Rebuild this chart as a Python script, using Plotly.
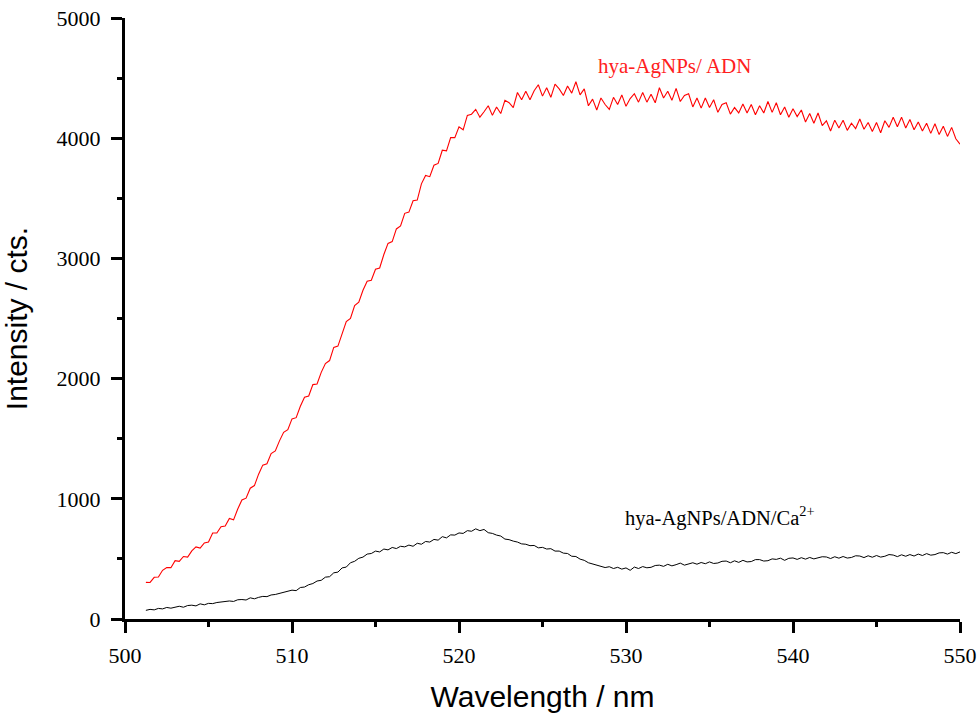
import numpy as np
import plotly.graph_objects as go

WL_START = 501.25
WL_STEP = 0.25

red_adn = [
    305, 304, 347,
    350, 405, 428, 427,
    485, 480, 520, 515,
    567, 600, 590, 633,
    640, 715, 715, 767,
    773, 836, 825, 915,
    990, 1005, 1088, 1110,
    1205, 1280, 1292, 1376,
    1398, 1482, 1553, 1575,
    1665, 1675, 1770, 1845,
    1855, 1950, 1955, 2052,
    2125, 2150, 2260, 2270,
    2375, 2475, 2500, 2608,
    2635, 2735, 2810, 2818,
    2910, 2920, 3032, 3125,
    3140, 3245, 3270, 3375,
    3385, 3480, 3485, 3620,
    3690, 3680, 3775, 3790,
    3900, 3895, 4005, 4005,
    4095, 4070, 4190, 4200,
    4240, 4175, 4220, 4270,
    4190, 4260, 4205, 4315,
    4295, 4255, 4380, 4320,
    4390, 4320, 4395, 4445,
    4350, 4420, 4340, 4450,
    4410, 4355, 4435, 4375,
    4470, 4360, 4410, 4270,
    4325, 4235, 4335, 4280,
    4240, 4340, 4280, 4360,
    4265, 4330, 4370, 4300,
    4380, 4300, 4365, 4295,
    4420, 4335, 4390, 4315,
    4415, 4305, 4355, 4370,
    4260, 4335, 4250, 4335,
    4255, 4320, 4215, 4280,
    4295, 4200, 4255, 4210,
    4285, 4210, 4280, 4195,
    4270, 4210, 4305, 4215,
    4295, 4195, 4260, 4175,
    4245, 4180, 4235, 4135,
    4205, 4125, 4210, 4105,
    4145, 4060, 4150, 4085,
    4150, 4065, 4125, 4080,
    4160, 4075, 4130, 4055,
    4130, 4045, 4145, 4090,
    4175, 4095, 4175, 4085,
    4155, 4070, 4135, 4060,
    4125, 4040, 4120, 4030,
    4100, 4015, 4090, 3995,
    3950,
]

black_ca = [
    72, 80, 76,
    88, 84, 96, 90,
    100, 106, 98, 112,
    115, 109, 126, 118,
    130, 128, 137, 140,
    145, 150, 146, 160,
    162, 158, 176, 168,
    180, 188, 186, 200,
    204, 212, 218, 230,
    240, 236, 262, 266,
    285, 295, 316, 322,
    348, 352, 384, 390,
    425, 432, 468, 480,
    505, 515, 540, 545,
    565, 558, 582, 575,
    595, 586, 605, 600,
    615, 605, 630, 622,
    645, 640, 662, 656,
    685, 675, 700, 698,
    716, 712, 735, 730,
    750, 735, 745, 718,
    712, 698, 690, 665,
    660, 648, 640, 625,
    622, 610, 612, 592,
    596, 582, 585, 565,
    565, 548, 545, 522,
    520, 498, 488, 468,
    458, 445, 440, 428,
    435, 420, 430, 415,
    425, 405, 432, 420,
    436, 426, 430, 445,
    448, 438, 455, 442,
    452, 465, 448, 460,
    468, 456, 470, 460,
    475, 462, 466, 480,
    482, 468, 484, 471,
    488, 475, 478, 494,
    494, 482, 485, 500,
    496, 506, 488, 505,
    508, 496, 510, 498,
    512, 500, 506, 518,
    516, 503, 518, 506,
    520, 507, 512, 526,
    524, 511, 526, 514,
    528, 515, 522, 536,
    532, 519, 534, 522,
    536, 524, 540, 528,
    544, 531, 536, 550,
    552, 540, 555, 544,
    558,
]

x_ticks = [500, 510, 520, 530, 540, 550]
y_ticks = [0, 1000, 2000, 3000, 4000, 5000]

wl_red = WL_START + WL_STEP * np.arange(len(red_adn))
wl_black = WL_START + WL_STEP * np.arange(len(black_ca))

fig = go.Figure()
fig.add_trace(go.Scatter(x=wl_red, y=red_adn, mode="lines",
                         line=dict(color="#ff0000", width=1.1), showlegend=False))
fig.add_trace(go.Scatter(x=wl_black, y=black_ca, mode="lines",
                         line=dict(color="#000000", width=1), showlegend=False))

fig.add_annotation(x=532.9, y=4600, text="hya-AgNPs/ ADN", showarrow=False,
                   font=dict(family="Liberation Serif", size=21, color="#ff2020"))
fig.add_annotation(x=535.6, y=850, text="hya-AgNPs/ADN/Ca<sup>2+</sup>", showarrow=False,
                   font=dict(family="Liberation Serif", size=20.5, color="#000000"))

axis_common = dict(
    showline=True, linecolor="black", linewidth=3, mirror=False,
    ticks="outside", ticklen=11, tickwidth=3, tickcolor="black",
    showgrid=False, zeroline=False, automargin=False,
    tickfont=dict(family="Liberation Serif", size=22, color="black"),
)

fig.update_xaxes(
    range=[500, 550], tickvals=x_ticks, ticktext=[str(v) for v in x_ticks],
    title=dict(text="Wavelength / nm", font=dict(family="Liberation Sans", size=30, color="black"), standoff=20),
    minor=dict(ticks="outside", ticklen=5, tickwidth=2.5, tickcolor="black", dtick=5, tick0=500, showgrid=False),
    ticklabelstandoff=4,
    **axis_common,
)
fig.update_yaxes(
    range=[0, 5000], tickvals=y_ticks, ticktext=[str(v) for v in y_ticks],
    title=dict(text="Intensity / cts.", font=dict(family="Liberation Sans", size=30, color="black"), standoff=21),
    minor=dict(ticks="outside", ticklen=5, tickwidth=2.5, tickcolor="black", dtick=500, tick0=0, showgrid=False),
    ticklabelstandoff=6,
    **axis_common,
)

fig.update_layout(
    width=980, height=713,
    margin=dict(l=125, r=20, t=18, b=94),
    plot_bgcolor="white", paper_bgcolor="white",
)

fig.write_html("out.html")
